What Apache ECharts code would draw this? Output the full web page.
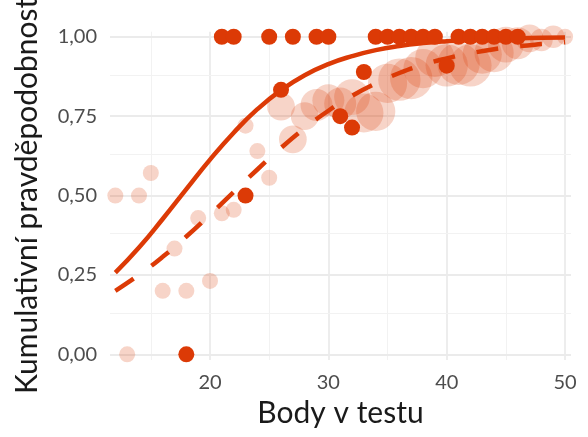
<!DOCTYPE html>
<html><head><meta charset="utf-8">
<script src="https://cdn.jsdelivr.net/npm/echarts@6/dist/echarts.min.js"></script>
<style>html,body{margin:0;padding:0;background:#fff}#c{width:588px;height:437px}</style>
</head><body><div id="c"></div>
<script>
// axis ticks
const xTicks = [20, 30, 40, 50];
const xMinorTicks = [15, 25, 35, 45];
const yTicks = [0, 0.25, 0.5, 0.75, 1];
const yMinorTicks = [0.125, 0.375, 0.625, 0.875];

// observed cumulative proportions (light circles), with counts for size
const obsX = [12,13,14,15,16,17,18,19,20,21,22,23,24,25,26,27,28,29,30,31,32,33,34,35,36,37,38,39,40,41,42,43,44,45,46,47,48,49,50];
const obsY = [0.5,0,0.5,0.571,0.2,0.333,0.2,0.429,0.231,0.444,0.455,0.72,0.64,0.556,0.78,0.677,0.75,0.785,0.8,0.79,0.81,0.76,0.765,0.853,0.865,0.87,0.9,0.935,0.91,0.915,0.91,0.945,0.95,0.975,0.98,0.995,0.99,1,1];
const obsN = [1,1,1,1,1,1,1,1,1,1,1,1,1,1,3,3,3,4,4,4,5,6,6,6,7,7,6,6,7,7,7,6,6,5,4,3,2,2,1];

// individual solid points
const ptX = [18,23,26,31,32,33,40,21,22,25,27,29,30,34,35,36,37,38,39,41,42,43,44,45,46];
const ptY = [0,0.5,0.833,0.75,0.714,0.889,0.909,1,1,1,1,1,1,1,1,1,1,1,1,1,1,1,1,1,1];

// fitted curves
const curveX = [12,14,16,18,20,22,24,26,28,30,32,34,36,38,40,42,44,46,48,50];
const fitSolid = [0.257,0.336,0.426,0.52,0.613,0.698,0.772,0.832,0.879,0.914,0.939,0.958,0.971,0.98,0.986,0.99,0.9935,0.9955,0.9969,0.9979];
const fitDashed = [0.2,0.25,0.307,0.371,0.44,0.511,0.582,0.65,0.712,0.767,0.814,0.853,0.886,0.912,0.932,0.948,0.961,0.97,0.977,0.983];

const C = '#dc3a06';
const FONT = 'Lato';
const majorStyle = {color:'#ebebeb', width:1.8, type:'solid'};
const minorStyle = {color:'#f2f2f2', width:1, type:'solid'};

const gridLines = [];
xTicks.forEach(v => gridLines.push({xAxis:v, lineStyle:majorStyle}));
xMinorTicks.forEach(v => gridLines.push({xAxis:v, lineStyle:minorStyle}));
yTicks.forEach(v => gridLines.push({yAxis:v, lineStyle:majorStyle}));
yMinorTicks.forEach(v => gridLines.push({yAxis:v, lineStyle:minorStyle}));

const chart = echarts.init(document.getElementById('c'), null, {renderer:'canvas'});
chart.setOption({
  animation:false,
  backgroundColor:'#fff',
  grid:{left:110, right:17, top:31.7, bottom:77, containLabel:false, outerBoundsMode:'none'},
  xAxis:{
    type:'value', min:11.55, max:50.5,
    splitLine:{show:false}, axisLine:{show:false}, axisTick:{show:false},
    axisLabel:{customValues:xTicks, color:'#4d4d4d', fontSize:20, fontFamily:FONT, margin:13},
    name:'Body v testu', nameLocation:'middle', nameGap:37,
    nameTextStyle:{color:'#1a1a1a', fontSize:30, fontFamily:FONT}
  },
  yAxis:{
    type:'value', min:-0.018, max:1.016,
    splitLine:{show:false}, axisLine:{show:false}, axisTick:{show:false},
    axisLabel:{customValues:yTicks, color:'#4d4d4d', fontSize:20, fontFamily:FONT, margin:13,
      formatter:v => v.toFixed(2).replace('.', ',')},
    name:'Kumulativní pravděpodobnost', nameLocation:'middle', nameGap:68, nameRotate:90,
    nameTextStyle:{color:'#1a1a1a', fontSize:30, fontFamily:FONT}
  },
  series:[
    {type:'scatter', data:[], z:0, silent:true,
     markLine:{z:0, silent:true, symbol:'none', label:{show:false}, animation:false, data:gridLines}},
    {type:'scatter', z:2, silent:true,
     data: obsX.map((x,i)=>[x, obsY[i], obsN[i]]),
     symbolSize: d => 16*Math.sqrt(d[2]),
     itemStyle:{color:C, opacity:0.22}},
    {type:'line', z:3, silent:true, smooth:true, symbol:'none',
     data: curveX.map((x,i)=>[x, fitSolid[i]]),
     lineStyle:{color:C, width:4.5, cap:'butt'}},
    {type:'line', z:3, silent:true, smooth:true, symbol:'none',
     data: curveX.map((x,i)=>[x, fitDashed[i]]),
     lineStyle:{color:C, width:4.5, type:[22,22], cap:'butt'}},
    {type:'scatter', z:4, silent:true, clip:false,
     data: ptX.map((x,i)=>[x, ptY[i]]),
     symbolSize:16, itemStyle:{color:C, opacity:1}}
  ]
});
</script>
</body></html>
